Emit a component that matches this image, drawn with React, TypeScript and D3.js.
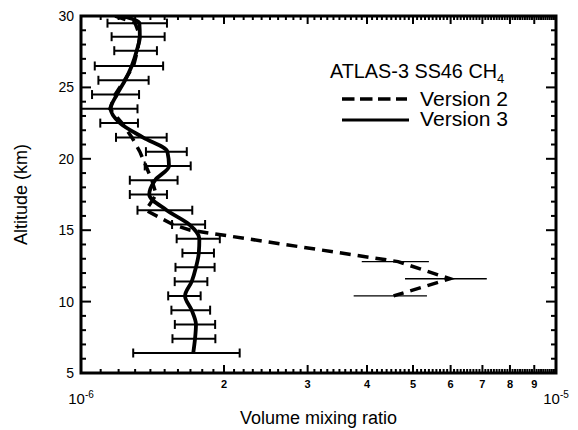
import React from 'react';
import * as d3 from 'd3';

// Version 3 profile (altitude km, mixing ratio in units of 1e-6, 1-sigma error)
const v3Alt = [30.0, 29.5, 28.55, 27.57, 26.5, 25.5, 24.5, 23.5, 22.5, 21.5, 20.5, 19.5, 18.5, 17.5, 16.4, 15.4, 14.4, 13.4, 12.4, 11.4, 10.4, 9.4, 8.4, 7.4, 6.4];
const v3Value = [1.22, 1.327, 1.33, 1.31, 1.279, 1.238, 1.19, 1.155, 1.208, 1.35, 1.52, 1.532, 1.432, 1.392, 1.515, 1.69, 1.775, 1.77, 1.746, 1.71, 1.656, 1.71, 1.746, 1.738, 1.723];
const v3Err = [null, 0.19, 0.17, 0.135, 0.21, 0.15, 0.135, 0.16, 0.11, 0.165, 0.15, 0.17, 0.165, 0.125, 0.2, 0.135, 0.185, 0.135, 0.165, 0.135, 0.13, 0.16, 0.17, 0.18, 0.435];

// Version 2 profile
const v2Alt = [30.0, 29.5, 28.6, 27.6, 26.5, 25.5, 24.5, 23.5, 22.5, 21.5, 20.5, 19.5, 18.5, 17.5, 16.4, 15.4, 15.0, 12.8, 11.6, 10.4];
const v2Value = [1.18, 1.3, 1.33, 1.315, 1.29, 1.235, 1.18, 1.15, 1.22, 1.28, 1.33, 1.37, 1.41, 1.44, 1.37, 1.56, 1.7, 4.65, 5.98, 4.55];
const v2BarAlt = [12.8, 11.6, 10.4];
const v2BarErr = [0.75, 1.17, 0.8];

const yMajor = [5, 10, 15, 20, 25, 30];
const xDigitLabels = ['2', '3', '4', '5', '6', '7', '8', '9'];

const font = '"Liberation Sans", Arial, Helvetica, sans-serif';

function App() {
  const margin = { top: 16, left: 81 };
  const width = 475;
  const height = 357;

  const x = d3.scaleLog().domain([1e-6, 1e-5]).range([0, width]);
  const y = d3.scaleLinear().domain([5, 30]).range([height, 0]);

  const line = d3
    .line<[number, number]>()
    .x((d) => x(d[1] * 1e-6))
    .y((d) => y(d[0]));

  const v3Points: [number, number][] = v3Alt.map((a, i) => [a, v3Value[i]]);
  const v2Points: [number, number][] = v2Alt.map((a, i) => [a, v2Value[i]]);

  const v3Path = line.curve(d3.curveMonotoneY)(v3Points) || '';
  const v2Path = line.curve(d3.curveLinear)(v2Points) || '';

  const xMinor = d3.range(11, 100).map((k) => k / 10).filter((k) => k < 10);
  const yMinor = d3.range(6, 30).filter((a) => a % 5 !== 0);

  const ticks = [] as JSX.Element[];
  xMinor.forEach((m) => {
    const px = x(m * 1e-6);
    const len = Number.isInteger(m) ? 8 : 4;
    ticks.push(<line key={`xb${m}`} x1={px} x2={px} y1={height} y2={height - len} />);
    ticks.push(<line key={`xt${m}`} x1={px} x2={px} y1={0} y2={len} />);
  });
  yMajor.concat(yMinor).forEach((a) => {
    const py = y(a);
    const len = a % 5 === 0 ? 10 : 5;
    ticks.push(<line key={`yl${a}`} x1={0} x2={len} y1={py} y2={py} />);
    ticks.push(<line key={`yr${a}`} x1={width} x2={width - len} y1={py} y2={py} />);
  });

  const cap = 4.5;

  return (
    <svg
      width={578}
      height={430}
      style={{ position: 'absolute', left: 0, top: 0, background: '#fff' }}
      fontFamily={font}
    >
      <g transform={`translate(${margin.left} ${margin.top})`}>
        <defs>
          <clipPath id="plot">
            <rect x={0} y={0} width={width} height={height} />
          </clipPath>
        </defs>

        {/* Version 3 error bars */}
        <g stroke="#000" strokeWidth={2} fill="none">
          {v3Alt.map((a, i) => {
            const e = v3Err[i];
            if (e == null) return null;
            const lo = x(Math.max(v3Value[i] - e, 1.0) * 1e-6);
            const hi = x((v3Value[i] + e) * 1e-6);
            const py = y(a);
            return (
              <g key={`e3${a}`}>
                <line x1={lo} x2={hi} y1={py} y2={py} />
                <line x1={lo} x2={lo} y1={py - cap} y2={py + cap} />
                <line x1={hi} x2={hi} y1={py - cap} y2={py + cap} />
              </g>
            );
          })}
        </g>

        {/* Version 2 error bars */}
        <g stroke="#000" strokeWidth={1.3} fill="none">
          {v2BarAlt.map((a, i) => {
            const v = v2Value[v2Alt.indexOf(a)];
            const py = y(a);
            return (
              <line
                key={`e2${a}`}
                x1={x((v - v2BarErr[i]) * 1e-6)}
                x2={x((v + v2BarErr[i]) * 1e-6)}
                y1={py}
                y2={py}
              />
            );
          })}
        </g>

        <g clipPath="url(#plot)">
          <path d={v2Path} fill="none" stroke="#000" strokeWidth={3.5} strokeDasharray="11 7" />
          <path d={v3Path} fill="none" stroke="#000" strokeWidth={3.8} strokeLinejoin="round" />
        </g>

        {/* frame and ticks */}
        <g stroke="#000" strokeWidth={2}>{ticks}</g>
        <rect x={0} y={0} width={width} height={height} fill="none" stroke="#000" strokeWidth={3} />

        {/* y tick labels */}
        {yMajor.map((a) => (
          <text key={`yl${a}`} x={-7} y={y(a)} dy="0.35em" textAnchor="end" fontSize={14}>
            {a}
          </text>
        ))}

        {/* x tick labels */}
        {xDigitLabels.map((s) => (
          <text key={`xd${s}`} x={x(+s * 1e-6)} y={height + 15} textAnchor="middle" fontSize={11} fontWeight="bold">
            {s}
          </text>
        ))}
        {[1e-6, 1e-5].map((v, i) => (
          <text key={`xm${i}`} x={x(v)} y={height + 31} textAnchor="middle" fontSize={15}>
            10
            <tspan dy={-6} fontSize={10}>{i === 0 ? '-6' : '-5'}</tspan>
          </text>
        ))}

        {/* axis titles */}
        <text x={width / 2} y={height + 51} textAnchor="middle" fontSize={18}>
          Volume mixing ratio
        </text>
        <text
          transform={`translate(${-54} ${height / 2}) rotate(-90)`}
          textAnchor="middle"
          fontSize={18}
        >
          Altitude (km)
        </text>

        {/* legend */}
        <g transform={`translate(${-margin.left} ${-margin.top})`}>
          <text x={330} y={78} fontSize={19.5}>
            <tspan textLength={167} lengthAdjust="spacingAndGlyphs">ATLAS-3 SS46 CH</tspan>
            <tspan dy={5} fontSize={13}>4</tspan>
          </text>
          <line x1={342} x2={407} y1={99} y2={99} stroke="#000" strokeWidth={3.5} strokeDasharray="12.5 5.5" />
          <text x={420} y={106} fontSize={19.5} textLength={88} lengthAdjust="spacingAndGlyphs">Version 2</text>
          <line x1={342} x2={409} y1={120} y2={120} stroke="#000" strokeWidth={3} />
          <text x={420} y={126} fontSize={19.5} textLength={88} lengthAdjust="spacingAndGlyphs">Version 3</text>
        </g>
      </g>
    </svg>
  );
}

export default App;
